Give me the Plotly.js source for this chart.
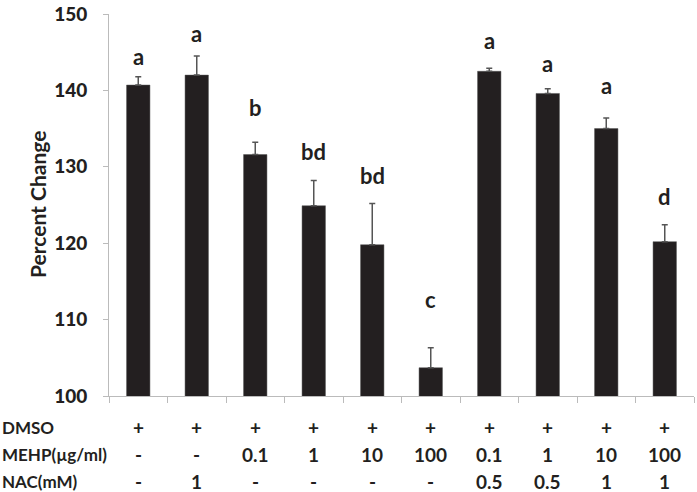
<!DOCTYPE html>
<html>
<head>
<meta charset="utf-8">
<script src="https://cdn.plot.ly/plotly-3.0.1.min.js"></script>
<style>html,body{margin:0;padding:0;background:#fff;}#chart{width:697px;height:492px;}</style>
</head>
<body>
<div id="chart"></div>
<script>
// ---- data ----
const groups = [0,1,2,3,4,5,6,7,8,9];
const means = [140.7, 142.0, 131.6, 124.9, 119.8, 103.7, 142.5, 139.6, 135.0, 120.2];
const errs  = [1.1, 2.5, 1.6, 3.3, 5.4, 2.6, 0.4, 0.6, 1.4, 2.2];
const letters = ['a','a','b','bd','bd','c','a','a','a','d'];
const letterY = [143.1, 146.1, 136.4, 130.6, 127.5, 111.2, 145.1, 142.1, 139.3, 124.8];
const rowLabels = ['DMSO','MEHP(\u00b5g/ml)','NAC(mM)'];
const dmso = ['+','+','+','+','+','+','+','+','+','+'];
const mehp = ['-','-','0.1','1','10','100','0.1','1','10','100'];
const nac  = ['-','1','-','-','-','-','0.5','0.5','1','1'];
const yTicks = [100,110,120,130,140,150];

const FONT = 'Lato, "Open Sans", sans-serif';
const DARK = '#231f20';

const W = 697, H = 492;
const M = {l:109, r:3, t:14, b:96};
const plotW = W - M.l - M.r, plotH = H - M.t - M.b;

const trace = {
  type:'bar', x: groups, y: means, width: 0.4,
  marker:{color: DARK, line:{color:'#555', width:0.5}},
  error_y:{type:'data', symmetric:false, array: errs, arrayminus: groups.map(()=>0),
           color:'#555', thickness:1.5, width:3},
  hoverinfo:'none'
};

const ann = [];
letters.forEach((t,i)=>ann.push({x:groups[i], y:letterY[i], xref:'x', yref:'y', text:'<b>'+t+'</b>',
  showarrow:false, xanchor:'center', yanchor:'bottom', yshift:-5, font:{family:FONT, size:22, color:DARK, weight:900}}));

const rows = [dmso, mehp, nac];
const rowPix = [427, 454, 481];
rows.forEach((r,ri)=>{
  const py = (H - M.b - rowPix[ri]) / plotH;
  ann.push({x:(0-M.l)/plotW, y:py, xref:'paper', yref:'paper', text:'<b>'+rowLabels[ri]+'</b>',
    showarrow:false, xanchor:'left', yanchor:'middle', font:{family:FONT, size:17, color:DARK, weight:900}});
  r.forEach((v,i)=>ann.push({x:groups[i], y:py, xref:'x', yref:'paper', text:'<b>'+v+'</b>',
    showarrow:false, xanchor:'center', yanchor:'middle', font:{family:FONT, size:19, color:DARK, weight:900}}));
});

ann.push({x:(37-M.l)/plotW, y:0.5, xref:'paper', yref:'paper', text:'<b>Percent Change</b>', textangle:-90,
  showarrow:false, xanchor:'center', yanchor:'middle', font:{family:FONT, size:21, color:DARK, weight:900}});

const bounds = [];
for (let i=0;i<=groups.length;i++) bounds.push(i-0.5);

const layout = {
  width:W, height:H, margin:M, paper_bgcolor:'#fff', plot_bgcolor:'#fff', showlegend:false,
  xaxis:{range:[-0.5, 9.5], tickvals:bounds, ticks:'outside', ticklen:6, tickcolor:'#bbb', tickwidth:1,
    showticklabels:false, showgrid:false, zeroline:false, showline:true, linecolor:'#bbb', linewidth:1},
  yaxis:{range:[100,150], tickvals:yTicks, ticks:'outside', ticklen:5, tickcolor:'#bbb', tickwidth:1,
    showgrid:false, zeroline:false, showline:true, linecolor:'#bbb', linewidth:1,
    ticklabeloverflow:'allow', ticklabelstandoff:12,
    tickfont:{family:FONT, size:19, color:DARK, weight:900}},
  annotations: ann
};

Plotly.newPlot('chart', [trace], layout, {displayModeBar:false, staticPlot:true});
</script>
</body>
</html>
